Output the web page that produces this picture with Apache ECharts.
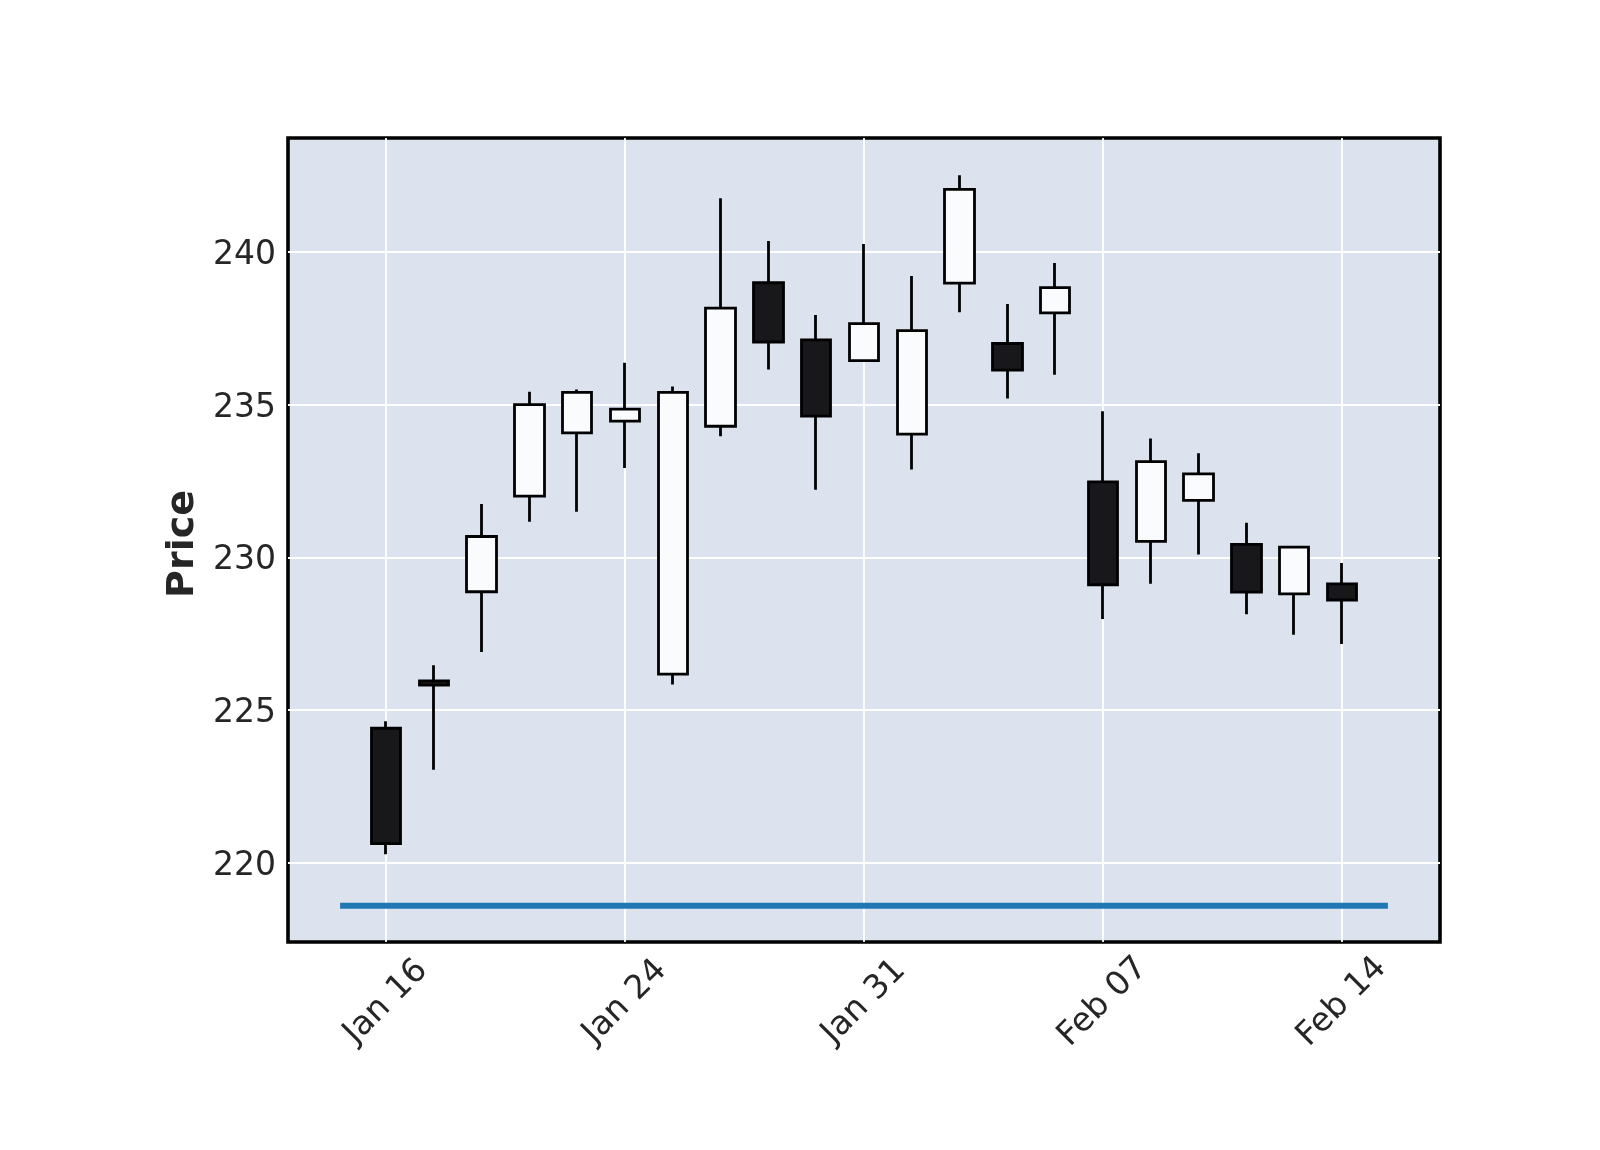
<!DOCTYPE html>
<html>
<head>
<meta charset="utf-8">
<script src="https://cdn.jsdelivr.net/npm/echarts@6/dist/echarts.min.js"></script>
<style>
html,body{margin:0;padding:0;background:#fff;}
#chart{width:1600px;height:1150px;}
</style>
</head>
<body>
<div id="chart"></div>
<script>
// trading-day index positions of the candles
const dayIndex = [0,1,2,3,4,5,6,7,8,9,10,11,12,13,14,15,16,17,18,19,20];
const dates = ['Jan 16','Jan 17','Jan 21','Jan 22','Jan 23','Jan 24','Jan 27','Jan 28','Jan 29','Jan 30','Jan 31',
               'Feb 03','Feb 04','Feb 05','Feb 06','Feb 07','Feb 10','Feb 11','Feb 12','Feb 13','Feb 14'];
const opens  = [224.40,225.95,228.87,232.00,234.07,234.46,226.17,234.29,238.99,237.12,236.44,234.03,238.98,237.00,238.00,232.47,230.52,231.86,230.42,228.80,229.13];
const closes = [220.62,225.81,230.68,235.00,235.40,234.85,235.40,238.16,237.05,234.62,237.65,237.42,242.05,236.13,238.83,229.10,233.13,232.73,228.86,230.33,228.60];
const lows   = [220.27,223.04,226.90,231.16,231.49,232.92,225.83,233.96,236.15,232.21,236.41,232.87,238.02,235.20,235.98,227.98,229.13,230.09,228.13,227.46,227.16];
const highs  = [224.63,226.46,231.74,235.42,235.49,236.37,235.59,241.76,240.36,237.93,240.26,239.21,242.51,238.29,239.64,234.78,233.89,233.41,231.13,230.38,229.81];

// blue horizontal line
const lineX = [-0.96, 20.96];
const lineY = [218.59, 218.59];

// tick labels
const xTickPos = [0,5,10,15,20];
const xTickLabels = ['Jan 16','Jan 24','Jan 31','Feb 07','Feb 14'];
const yTicks = [220,225,230,235,240];

const candleData = dayIndex.map((x,i)=>[x, opens[i], closes[i], lows[i], highs[i]]);
const lineData = lineX.map((x,i)=>[x, lineY[i]]);

const chart = echarts.init(document.getElementById('chart'), null, {renderer:'canvas'});
const txt = '#262626';
chart.setOption({
  animation:false,
  backgroundColor:'#ffffff',
  textStyle:{fontFamily:'DejaVu Sans'},
  grid:{left:288,right:160,top:138,bottom:208,show:true,backgroundColor:'#dde3ee',borderColor:'#000000',borderWidth:3.6,containLabel:false},
  xAxis:{
    type:'value',min:-2.05,max:22.05,
    axisLine:{show:false},
    axisTick:{show:false,customValues:xTickPos},
    splitLine:{show:true,lineStyle:{color:'#ffffff',width:1.8}},
    axisLabel:{
      customValues:xTickPos,
      rotate:45,align:'center',verticalAlign:'middle',margin:60,
      fontSize:33,color:txt,fontFamily:'DejaVu Sans',
      formatter:(v)=>{const k=xTickPos.indexOf(Math.round(v));return k>=0?xTickLabels[k]:'';}
    }
  },
  yAxis:{
    type:'value',min:217.40,max:243.73,
    name:'Price',nameLocation:'middle',nameGap:84,
    nameTextStyle:{fontSize:38,fontWeight:'bold',color:txt,fontFamily:'DejaVu Sans',padding:[0,8,0,0]},
    axisLine:{show:false},
    axisTick:{show:false,customValues:yTicks},
    splitLine:{show:true,lineStyle:{color:'#ffffff',width:1.8}},
    axisLabel:{
      customValues:yTicks,margin:12,
      formatter:(v)=>'{t|'+v+'}',
      rich:{t:{fontSize:33,color:txt,fontFamily:'DejaVu Sans',padding:[7,0,0,0]}}
    }
  },
  series:[
    {
      type:'candlestick',
      data:candleData,
      encode:{x:0,y:[1,2,3,4]},
      barWidth:30,
      itemStyle:{color:'#fafbfd',color0:'#18181a',borderColor:'#000000',borderColor0:'#000000',borderWidth:2.8},
      z:3
    },
    {
      type:'line',
      data:lineData,
      symbol:'none',
      lineStyle:{color:'#1f77b4',width:6},
      z:4
    }
  ]
});
</script>
</body>
</html>
